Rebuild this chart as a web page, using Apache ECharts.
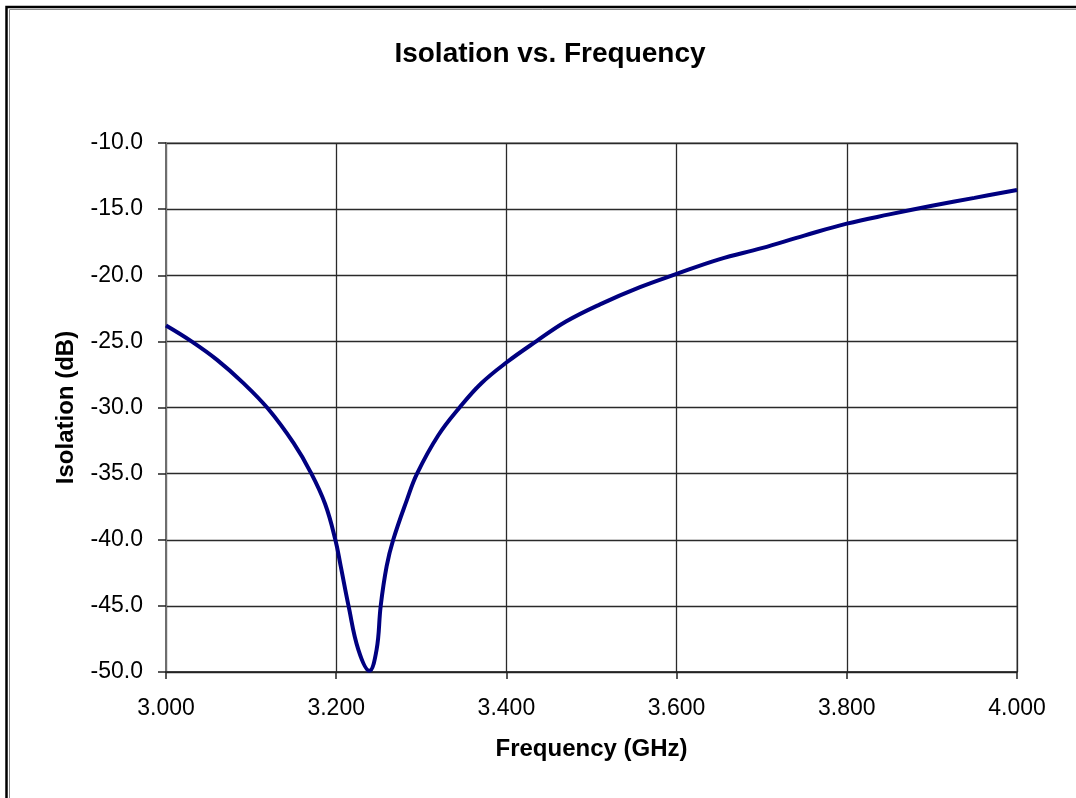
<!DOCTYPE html>
<html>
<head>
<meta charset="utf-8">
<script src="https://cdn.jsdelivr.net/npm/echarts@6/dist/echarts.min.js"></script>
<style>
  html, body { margin: 0; padding: 0; background: #fff; }
  #container { width: 1076px; height: 798px; }
</style>
</head>
<body>
<div id="container"></div>
<script>
// values
var freqGHz = [3.000, 3.030, 3.060, 3.090, 3.120, 3.150, 3.170, 3.187, 3.199, 3.2053,
  3.2145, 3.226, 3.239, 3.2475, 3.2523, 3.2593, 3.267, 3.283, 3.295, 3.320,
  3.345, 3.370, 3.400, 3.435, 3.470, 3.510, 3.557, 3.600, 3.650, 3.700,
  3.750, 3.800, 3.850, 3.900, 3.950, 4.000];
var isolationDb = [-23.8, -25.0, -26.4, -28.1, -30.1, -32.7, -34.9, -37.3, -40.0, -42.0,
  -45.0, -48.3, -49.9, -48.3, -45.0, -42.0, -40.0, -37.0, -35.0, -32.1,
  -30.0, -28.2, -26.6, -25.0, -23.5, -22.2, -20.9, -19.9, -18.8, -17.95,
  -17.0, -16.1, -15.4, -14.75, -14.15, -13.55];

var chartTitle = "Isolation vs. Frequency";
var xTitle = "Frequency (GHz)";
var yTitle = "Isolation (dB)";

var dom = document.getElementById("container");
var myChart = echarts.init(dom);

var points = freqGHz.map(function (f, i) {
  return [f, isolationDb[i]];
});

var font = "'Liberation Sans', Arial, sans-serif";

var option = {
  backgroundColor: "#fff",
  animation: false,
  title: {
    text: chartTitle,
    left: 545,
    top: 35,
    textAlign: "center",
    textStyle: { fontFamily: font, fontSize: 28, fontWeight: "bold", color: "#000" }
  },
  grid: {
    left: 166,
    right: 59,
    top: 143,
    bottom: 126,
    show: true,
    borderColor: "#8c8c8c",
    borderWidth: 1.5,
    backgroundColor: "#fff"
  },
  xAxis: {
    type: "value",
    min: 3.0,
    max: 4.0,
    interval: 0.2,
    name: xTitle,
    nameLocation: "middle",
    nameGap: 65,
    nameTextStyle: { fontFamily: font, fontSize: 24, fontWeight: "bold", color: "#000" },
    axisLine: { lineStyle: { color: "#222", width: 1.5 } },
    axisTick: { show: true, length: 7, lineStyle: { color: "#222", width: 1.5 } },
    axisLabel: {
      margin: 25,
      fontFamily: font,
      fontSize: 23,
      color: "#000",
      formatter: function (v) { return v.toFixed(3); }
    },
    splitLine: { show: true, lineStyle: { color: "#2a2a2a", width: 1.3 } }
  },
  yAxis: {
    type: "value",
    min: -50,
    max: -10,
    interval: 5,
    name: yTitle,
    nameLocation: "middle",
    nameGap: 88,
    nameTextStyle: { fontFamily: font, fontSize: 24, fontWeight: "bold", color: "#000" },
    axisLine: { show: true, lineStyle: { color: "#6e6e6e", width: 2 } },
    axisTick: { show: true, length: 8, lineStyle: { color: "#222", width: 1.5 } },
    axisLabel: {
      margin: 23,
      fontFamily: font,
      fontSize: 23,
      color: "#000",
      formatter: function (v) { return v.toFixed(1); }
    },
    splitLine: { show: true, lineStyle: { color: "#2a2a2a", width: 1.3 } }
  },
  series: [{
    type: "line",
    data: points,
    smooth: 0.4,
    showSymbol: false,
    lineStyle: { color: "#000080", width: 4 },
    itemStyle: { color: "#000080" }
  }],
  graphic: [
    // outer double frame, cut off at right and bottom
    { type: "polyline", shape: { points: [[6.5, 798], [6.5, 7], [1076, 7]] },
      style: { stroke: "#000", lineWidth: 2.5, fill: null } },
    { type: "polyline", shape: { points: [[9.5, 798], [9.5, 9.5], [1076, 9.5]] },
      style: { stroke: "#8a8a8a", lineWidth: 1, fill: null } }
  ]
};

myChart.setOption(option, true);
</script>
</body>
</html>
